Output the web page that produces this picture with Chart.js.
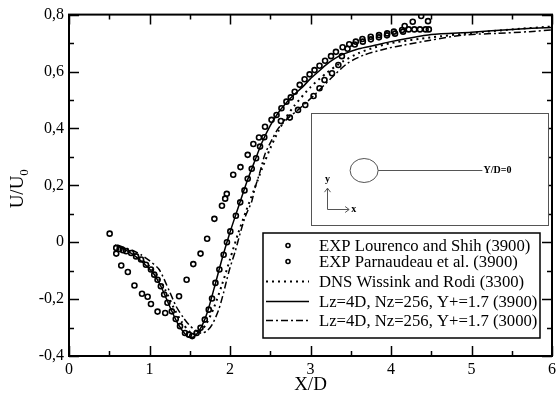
<!DOCTYPE html>
<html>
<head>
<meta charset="utf-8">
<script src="https://cdn.jsdelivr.net/npm/chart.js@4"></script>
<style>
  html, body { margin: 0; padding: 0; background: #fff; }
  #wrap { width: 560px; height: 399px; }
</style>
</head>
<body>
<div id="wrap"><canvas id="chart" width="560" height="399"></canvas></div>
<script>
// ── Data (X/D, U/U0) ──
const lourencoX = [0.505, 0.587, 0.649, 0.731, 0.813, 0.907, 0.977, 1.018, 1.100, 1.195, 1.367, 1.461, 1.544, 1.634, 1.716, 1.806, 1.900, 1.94, 1.96, 2.04, 2.13, 2.22, 2.29, 2.36, 2.435, 2.516, 2.578, 2.639, 2.701, 2.755, 2.804, 2.866, 2.927, 2.989, 3.050, 3.112, 3.181, 3.255, 3.316, 3.399, 3.481, 3.563, 3.645, 3.748, 3.851, 3.953, 4.036, 4.138, 4.17, 4.27, 4.375, 4.46];
const lourencoY = [0.03, -0.04, -0.082, -0.105, -0.152, -0.181, -0.192, -0.217, -0.244, -0.249, -0.190, -0.132, -0.077, -0.040, 0.012, 0.082, 0.128, 0.153, 0.17, 0.237, 0.264, 0.307, 0.345, 0.368, 0.406, 0.430, 0.447, 0.471, 0.494, 0.509, 0.529, 0.553, 0.573, 0.590, 0.605, 0.620, 0.638, 0.654, 0.669, 0.685, 0.696, 0.705, 0.714, 0.722, 0.728, 0.734, 0.740, 0.746, 0.76, 0.775, 0.795, 0.777];

const parnaudeauX = [0.587, 0.628, 0.67, 0.71, 0.772, 0.833, 0.895, 0.956, 1.018, 1.059, 1.100, 1.141, 1.182, 1.223, 1.277, 1.326, 1.379, 1.441, 1.490, 1.531, 1.585, 1.634, 1.687, 1.736, 1.777, 1.819, 1.868, 1.921, 1.962, 2.004, 2.073, 2.127, 2.180, 2.220, 2.270, 2.324, 2.373, 2.426, 2.632, 2.743, 2.845, 2.935, 3.038, 3.112, 3.174, 3.267, 3.346, 3.390, 3.46, 3.55, 3.65, 3.75, 3.85, 3.95, 4.05, 4.15, 4.22, 4.29, 4.36, 4.43, 4.47];
const parnaudeauY = [-0.020, -0.024, -0.028, -0.032, -0.038, -0.050, -0.061, -0.079, -0.096, -0.114, -0.132, -0.155, -0.184, -0.213, -0.243, -0.270, -0.295, -0.319, -0.325, -0.330, -0.319, -0.301, -0.272, -0.237, -0.198, -0.143, -0.096, -0.044, 0.000, 0.038, 0.093, 0.140, 0.182, 0.223, 0.258, 0.295, 0.336, 0.369, 0.426, 0.438, 0.465, 0.482, 0.514, 0.541, 0.570, 0.594, 0.623, 0.654, 0.68, 0.695, 0.705, 0.713, 0.72, 0.727, 0.733, 0.74, 0.748, 0.748, 0.748, 0.748, 0.748];

const dnsX = [0.6, 0.7, 0.8, 0.9, 1.0, 1.1, 1.2, 1.3, 1.4, 1.5, 1.55, 1.62, 1.7, 1.8, 1.9, 2.0, 2.1, 2.2, 2.3, 2.4, 2.5, 2.6, 2.7, 2.8, 3.0, 3.2, 3.4, 3.6, 3.8, 4.0, 4.5, 5.0, 5.5, 6.0];
const dnsY = [-0.015, -0.025, -0.04, -0.06, -0.085, -0.12, -0.17, -0.23, -0.28, -0.315, -0.322, -0.315, -0.29, -0.23, -0.15, -0.06, 0.03, 0.11, 0.185, 0.26, 0.33, 0.39, 0.44, 0.48, 0.545, 0.595, 0.635, 0.665, 0.685, 0.7, 0.72, 0.735, 0.748, 0.758];

const les3900X = [0.57, 0.65, 0.75, 0.85, 0.95, 1.05, 1.15, 1.25, 1.35, 1.45, 1.52, 1.58, 1.65, 1.72, 1.8, 1.9, 2.0, 2.1, 2.2, 2.3, 2.4, 2.5, 2.6, 2.7, 2.8, 2.9, 3.0, 3.1, 3.2, 3.3, 3.4, 3.6, 3.8, 4.0, 4.2, 4.5, 5.0, 5.5, 6.0];
const les3900Y = [-0.01, -0.02, -0.035, -0.055, -0.08, -0.11, -0.16, -0.225, -0.285, -0.325, -0.335, -0.325, -0.295, -0.245, -0.165, -0.06, 0.035, 0.12, 0.205, 0.28, 0.352, 0.41, 0.455, 0.49, 0.52, 0.545, 0.575, 0.6, 0.625, 0.645, 0.66, 0.68, 0.692, 0.705, 0.716, 0.73, 0.738, 0.748, 0.755];

const les3000X = [0.6, 0.7, 0.8, 0.9, 1.0, 1.12, 1.244, 1.33, 1.42, 1.49, 1.57, 1.65, 1.72, 1.78, 1.86, 1.92, 1.96, 2.0, 2.065, 2.127, 2.19, 2.27, 2.31, 2.37, 2.435, 2.52, 2.6, 2.72, 2.845, 3.05, 3.255, 3.46, 3.666, 3.95, 4.16, 4.49, 4.9, 5.31, 5.72, 6.0];
const les3000Y = [-0.01, -0.02, -0.03, -0.045, -0.065, -0.096, -0.17, -0.225, -0.265, -0.29, -0.31, -0.32, -0.31, -0.289, -0.237, -0.178, -0.132, -0.09, -0.032, 0.032, 0.09, 0.143, 0.19, 0.245, 0.31, 0.36, 0.40, 0.436, 0.465, 0.518, 0.576, 0.629, 0.658, 0.681, 0.693, 0.71, 0.728, 0.734, 0.74, 0.746];

const seriesLabels = [
  'EXP Lourenco and Shih (3900)',
  'EXP Parnaudeau et al. (3900)',
  'DNS Wissink and Rodi (3300)',
  'Lz=4D, Nz=256, Y+=1.7 (3900)',
  'Lz=4D, Nz=256, Y+=1.7 (3000)'
];

const X_MIN = 0, X_MAX = 6, Y_MIN = -0.4, Y_MAX = 0.8;

const toPoints = (xs, ys) => xs.map((x, i) => ({ x, y: ys[i] }));
const fmtY = v => (Math.abs(v) < 1e-9 ? '0' : (Math.round(v * 10) / 10).toFixed(1).replace('.', ','));
const fmtX = v => String(Math.round(v));

const SERIF = '"Liberation Serif", "DejaVu Serif", serif';

const markerStyle = {
  showLine: false, pointRadius: 2.5, pointHoverRadius: 2.5,
  pointBorderWidth: 1.6, pointBorderColor: '#000',
  pointBackgroundColor: 'rgba(255,255,255,0)'
};
const lineStyle = {
  showLine: true, pointRadius: 0, pointHoverRadius: 0,
  borderColor: '#000', borderWidth: 1.5, tension: 0.25, fill: false
};

// ── frame, inward ticks, axis titles, inset sketch, legend box ──
const decorPlugin = {
  id: 'decor',
  afterDraw(chart) {
    const { ctx, chartArea: a, scales: { x, y } } = chart;
    ctx.save();

    // inward ticks on all four sides
    ctx.strokeStyle = '#000';
    ctx.lineWidth = 1.5;
    ctx.beginPath();
    for (let v = X_MIN; v <= X_MAX + 1e-9; v += 0.5) {
      const px = Math.round(x.getPixelForValue(v)) + 0.5;
      const len = Math.abs(v - Math.round(v)) < 1e-9 ? 10 : 5;
      ctx.moveTo(px, a.bottom); ctx.lineTo(px, a.bottom - len);
      ctx.moveTo(px, a.top); ctx.lineTo(px, a.top + len);
    }
    for (let k = 0; k <= 12; k++) {
      const v = Y_MIN + k * 0.1;
      const py = Math.round(y.getPixelForValue(v)) + 0.5;
      const len = k % 2 === 0 ? 10 : 5;
      ctx.moveTo(a.left, py); ctx.lineTo(a.left + len, py);
      ctx.moveTo(a.right, py); ctx.lineTo(a.right - len, py);
    }
    ctx.stroke();

    // frame
    ctx.lineWidth = 2;
    ctx.strokeRect(a.left, a.top, a.right - a.left, a.bottom - a.top);

    // axis titles
    ctx.fillStyle = '#000';
    ctx.font = `19px ${SERIF}`;
    ctx.textAlign = 'center';
    ctx.textBaseline = 'alphabetic';
    ctx.fillText('X/D', (a.left + a.right) / 2, 390);

    ctx.save();
    ctx.translate(23, 188);
    ctx.rotate(-Math.PI / 2);
    ctx.font = `19px ${SERIF}`;
    const w = ctx.measureText('U/U').width;
    ctx.textAlign = 'left';
    ctx.fillText('U/U', -w / 2 - 4, 0);
    ctx.font = `13px ${SERIF}`;
    ctx.fillText('0', w / 2 - 4, 5);
    ctx.restore();

    // inset sketch, placed in data units
    const bx0 = x.getPixelForValue(3.0), bx1 = x.getPixelForValue(5.95);
    const by0 = y.getPixelForValue(0.453), by1 = y.getPixelForValue(0.061);
    ctx.fillStyle = '#fff';
    ctx.fillRect(bx0, by0, bx1 - bx0, by1 - by0);
    ctx.strokeStyle = '#555';
    ctx.lineWidth = 1;
    ctx.strokeRect(Math.round(bx0) + 0.5, Math.round(by0) + 0.5, Math.round(bx1 - bx0), Math.round(by1 - by0));

    const cx = x.getPixelForValue(3.666), cy = Math.round(y.getPixelForValue(0.254)) + 0.5;
    ctx.beginPath();
    ctx.ellipse(cx, cy, 14, 12, 0, 0, Math.PI * 2);
    ctx.stroke();
    ctx.beginPath();
    ctx.moveTo(cx + 14, cy);
    ctx.lineTo(x.getPixelForValue(5.135), cy);
    ctx.stroke();
    ctx.fillStyle = '#000';
    ctx.font = `bold 10px ${SERIF}`;
    ctx.textAlign = 'left';
    ctx.textBaseline = 'middle';
    ctx.fillText('Y/D=0', x.getPixelForValue(5.15), cy);

    const ox = Math.round(x.getPixelForValue(3.206)) + 0.5, oy = Math.round(y.getPixelForValue(0.1165)) + 0.5;
    const ayTop = y.getPixelForValue(0.19), axRight = x.getPixelForValue(3.48);
    ctx.beginPath();
    ctx.moveTo(ox, ayTop); ctx.lineTo(ox, oy); ctx.lineTo(axRight, oy);
    ctx.moveTo(ox - 3, ayTop + 4); ctx.lineTo(ox, ayTop); ctx.lineTo(ox + 3, ayTop + 4);
    ctx.moveTo(axRight - 4, oy - 3); ctx.lineTo(axRight, oy); ctx.lineTo(axRight - 4, oy + 3);
    ctx.stroke();
    ctx.textAlign = 'center';
    ctx.fillText('y', ox, ayTop - 9);
    ctx.textAlign = 'left';
    ctx.fillText('x', axRight + 2, oy);

    // legend box
    const lx0 = a.left + 194, lx1 = a.right - 12;
    const ly0 = a.bottom - 123, ly1 = a.bottom - 18;
    ctx.fillStyle = '#fff';
    ctx.fillRect(lx0, ly0, lx1 - lx0, ly1 - ly0);
    ctx.strokeStyle = '#000';
    ctx.lineWidth = 1.5;
    ctx.strokeRect(lx0, ly0, lx1 - lx0, ly1 - ly0);

    const rows = [12, 28, 48, 68, 87];
    ctx.font = `16.7px ${SERIF}`;
    ctx.textBaseline = 'middle';
    chart.data.datasets.forEach((ds, i) => {
      const ry = Math.round(ly0 + rows[i]) + 0.5;
      ctx.strokeStyle = '#000';
      if (ds.showLine) {
        ctx.lineWidth = ds.borderWidth;
        ctx.setLineDash(ds.borderDash || []);
        ctx.beginPath();
        ctx.moveTo(lx0 + 3, ry);
        ctx.lineTo(lx0 + 46, ry);
        ctx.stroke();
        ctx.setLineDash([]);
      } else {
        ctx.lineWidth = 1.6;
        ctx.beginPath();
        ctx.arc(lx0 + 25, ry, 2, 0, Math.PI * 2);
        ctx.stroke();
      }
      ctx.fillStyle = '#000';
      ctx.textAlign = 'left';
      ctx.fillText(ds.label, lx0 + 56, ry + 1);
    });

    ctx.restore();
  }
};

new Chart(document.getElementById('chart'), {
  type: 'scatter',
  data: {
    datasets: [
      { label: seriesLabels[0], data: toPoints(lourencoX, lourencoY), ...markerStyle },
      { label: seriesLabels[1], data: toPoints(parnaudeauX, parnaudeauY), ...markerStyle },
      { label: seriesLabels[2], data: toPoints(dnsX, dnsY), ...lineStyle, borderWidth: 2, borderDash: [2, 4], borderCapStyle: 'butt' },
      { label: seriesLabels[3], data: toPoints(les3900X, les3900Y), ...lineStyle },
      { label: seriesLabels[4], data: toPoints(les3000X, les3000Y), ...lineStyle, borderDash: [7, 3, 2, 3] }
    ]
  },
  options: {
    responsive: false,
    animation: false,
    events: [],
    layout: { padding: { top: 14, right: 4, left: 0, bottom: 0 } },
    plugins: { legend: { display: false }, tooltip: { enabled: false } },
    scales: {
      x: {
        type: 'linear', min: X_MIN, max: X_MAX,
        grid: { display: false, drawTicks: false },
        border: { display: false },
        ticks: { stepSize: 1, padding: 4, color: '#000', font: { family: SERIF, size: 16 }, callback: fmtX, maxRotation: 0 },
        afterFit: s => { s.height = 43; }
      },
      y: {
        type: 'linear', min: Y_MIN, max: Y_MAX,
        grid: { display: false, drawTicks: false },
        border: { display: false },
        ticks: { stepSize: 0.2, padding: 5, color: '#000', font: { family: SERIF, size: 16 }, callback: fmtY },
        afterFit: s => { s.width = 69; }
      }
    }
  },
  plugins: [decorPlugin]
});
</script>
</body>
</html>
